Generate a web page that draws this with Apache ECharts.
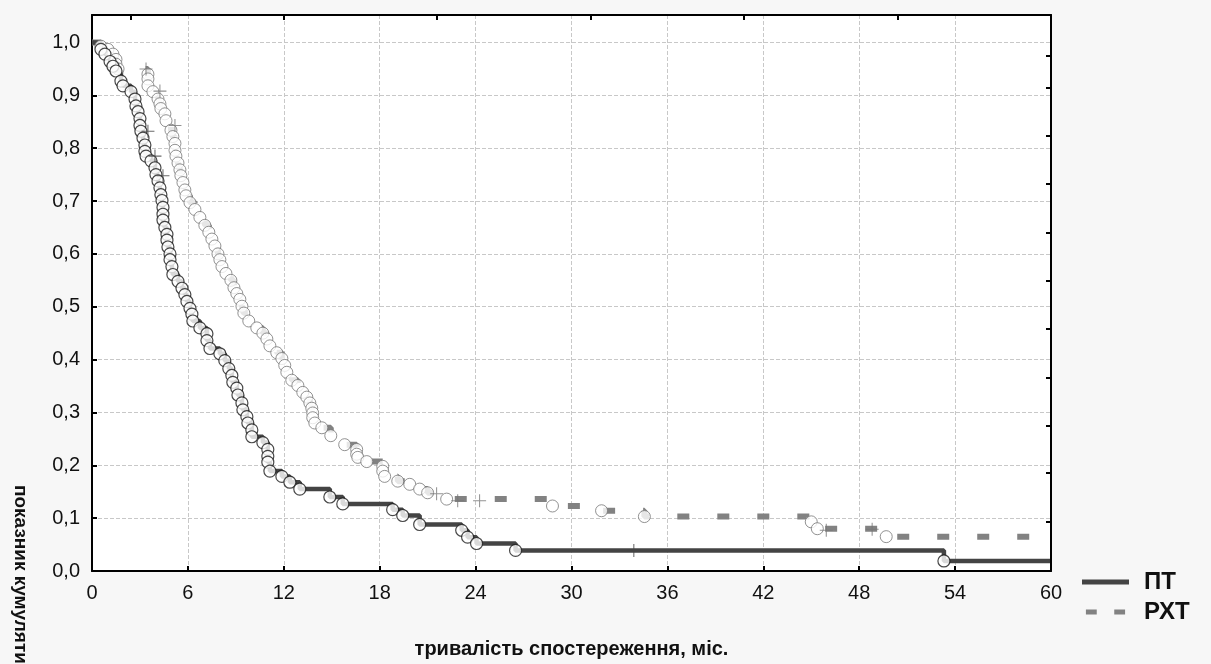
<!DOCTYPE html>
<html>
<head>
<meta charset="utf-8">
<script src="https://cdn.jsdelivr.net/npm/echarts@6/dist/echarts.min.js"></script>
<style>
  html, body { margin: 0; padding: 0; background: #f7f7f7; }
  #km { width: 1211px; height: 664px; }
</style>
</head>
<body>
<div id="km"></div>
<script>
// ПТ: час події (міс.) і показник після події
const ptTime = [0.56, 0.81, 1.13, 1.31, 1.5, 1.81, 1.94, 2.44, 2.69, 2.75, 2.88, 3.0, 3.0, 3.06, 3.19, 3.31, 3.31, 3.38,
  3.69, 3.94, 4.0, 4.13, 4.25, 4.31, 4.38, 4.44, 4.44, 4.44, 4.56, 4.69, 4.69, 4.75, 4.88, 4.88, 5.0, 5.06, 5.38, 5.63,
  5.81, 5.94, 6.13, 6.25, 6.31, 6.75, 7.19, 7.19, 7.38, 8.0, 8.31, 8.56, 8.75, 8.81, 9.06, 9.13, 9.38, 9.44, 9.69, 9.75,
  10.0, 10.0, 10.69, 11.0, 11.0, 11.0, 11.13, 11.88, 12.38, 13.0, 14.88, 15.69, 18.81, 19.44, 20.5, 23.13, 23.5, 24.06,
  26.5, 53.3];
const ptSurv = [0.987, 0.978, 0.964, 0.955, 0.946, 0.927, 0.918, 0.907, 0.893, 0.880, 0.869, 0.856, 0.843, 0.832, 0.819,
  0.806, 0.794, 0.785, 0.776, 0.763, 0.750, 0.738, 0.725, 0.712, 0.701, 0.688, 0.675, 0.664, 0.650, 0.637, 0.626, 0.613,
  0.600, 0.589, 0.576, 0.561, 0.548, 0.535, 0.523, 0.510, 0.497, 0.486, 0.473, 0.460, 0.449, 0.436, 0.421, 0.411, 0.398,
  0.383, 0.370, 0.357, 0.346, 0.333, 0.318, 0.305, 0.292, 0.280, 0.267, 0.254, 0.243, 0.230, 0.217, 0.206, 0.189, 0.179,
  0.168, 0.155, 0.140, 0.127, 0.116, 0.105, 0.088, 0.077, 0.064, 0.052, 0.039, 0.019];
const ptCensTime = [3.5, 3.94, 4.44, 33.9];
const ptCensSurv = [0.832, 0.785, 0.748, 0.039];

// РХТ
const rxtTime = [0.56, 1.0, 1.31, 1.5, 1.5, 1.63, 3.5, 3.5, 3.5, 3.81, 4.13, 4.25, 4.31, 4.56, 4.63, 4.94, 5.06, 5.19,
  5.19, 5.25, 5.38, 5.5, 5.56, 5.69, 5.81, 5.88, 6.13, 6.44, 6.75, 7.06, 7.31, 7.5, 7.69, 7.88, 8.0, 8.13, 8.38, 8.69,
  8.88, 9.06, 9.25, 9.38, 9.5, 9.81, 10.31, 10.69, 10.94, 11.13, 11.56, 11.88, 12.06, 12.19, 12.5, 12.88, 13.19, 13.44,
  13.63, 13.75, 13.81, 13.81, 13.94, 14.38, 14.94, 15.81, 16.56, 16.56, 16.63, 17.19, 18.19, 18.19, 18.31, 19.13, 19.88,
  20.5, 21.0, 22.19, 28.81, 31.88, 34.56, 45.0, 45.38, 49.69];
const rxtSurv = [0.993, 0.987, 0.978, 0.968, 0.959, 0.950, 0.940, 0.931, 0.918, 0.907, 0.893, 0.884, 0.875, 0.865, 0.852,
  0.834, 0.822, 0.809, 0.796, 0.785, 0.772, 0.759, 0.748, 0.735, 0.721, 0.710, 0.697, 0.684, 0.669, 0.654, 0.641, 0.628,
  0.615, 0.600, 0.589, 0.576, 0.563, 0.550, 0.536, 0.525, 0.514, 0.501, 0.488, 0.473, 0.460, 0.450, 0.439, 0.426, 0.413,
  0.402, 0.389, 0.376, 0.361, 0.351, 0.338, 0.329, 0.318, 0.308, 0.299, 0.290, 0.280, 0.271, 0.256, 0.239, 0.230, 0.221,
  0.215, 0.207, 0.198, 0.189, 0.179, 0.170, 0.164, 0.155, 0.148, 0.136, 0.123, 0.114, 0.103, 0.093, 0.080, 0.065];
const rxtCensTime = [3.38, 4.25, 5.19, 21.56, 22.88, 24.25, 45.94, 48.81];
const rxtCensSurv = [0.950, 0.908, 0.843, 0.146, 0.133, 0.133, 0.077, 0.079];

const topTicks = [2.4, 12, 21.6, 31.2, 40.8, 50.4];
const rightTicks = [0.093, 0.185, 0.275, 0.366, 0.458, 0.549, 0.64, 0.732, 0.823, 0.915, 0.974];

const FONT = '"Liberation Sans", Arial, sans-serif';

function pairs(t, s) { return t.map((v, i) => [v, s[i]]); }
function stepLine(t, s) { return [[0, 1]].concat(pairs(t, s), [[60, s[s.length - 1]]]); }

const plus = 'path://M0,4.6H10V5.4H0Z M4.6,0H5.4V10H4.6Z';
const black = { color: '#000', width: 2 };

const chart = echarts.init(document.getElementById('km'));
chart.setOption({
  backgroundColor: '#f7f7f7',
  animation: false,
  textStyle: { fontFamily: FONT },
  grid: { left: 92, right: 160, top: 15, bottom: 86, show: true, backgroundColor: '#fff', borderWidth: 0 },
  legend: {
    orient: 'vertical', left: 1077, top: 565, itemWidth: 47, itemHeight: 5, itemGap: 6,
    data: [
      { name: 'ПТ', icon: 'path://M0,0H47V5H0Z' },
      { name: 'РХТ', icon: 'path://M0,0H13V6H0Z M34,0H47V6H34Z' }
    ],
    textStyle: { fontFamily: FONT, fontSize: 24, fontWeight: 'bold', color: '#111', padding: [0, 0, 0, 10] }
  },
  xAxis: [{
    type: 'value', min: 0, max: 60, interval: 6, z: 1,
    name: 'тривалість спостереження, міс.', nameLocation: 'middle', nameGap: 68,
    nameTextStyle: { fontFamily: FONT, fontSize: 20, fontWeight: 'bold', color: '#111' },
    axisLine: { onZero: false, lineStyle: black },
    axisTick: { inside: true, length: 5, lineStyle: black },
    axisLabel: { fontSize: 20, color: '#111', margin: 12 },
    splitLine: { show: true, lineStyle: { color: '#c8c8c8', type: [4, 2], width: 1 } }
  }, {
    type: 'value', position: 'top', min: 0, max: 60, z: 8,
    axisLine: { show: true, onZero: false, lineStyle: black },
    axisTick: { show: true, inside: true, length: 5, customValues: topTicks, lineStyle: black },
    axisLabel: { show: false }, splitLine: { show: false }
  }],
  yAxis: [{
    type: 'value', min: 0, max: 1.052, interval: 0.1, z: 1,
    axisLine: { show: true, onZero: false, lineStyle: black },
    axisTick: { show: true, inside: true, length: 5, lineStyle: black },
    axisLabel: {
      fontSize: 20, color: '#111', margin: 12,
      formatter: v => v > 1.0001 ? '' : v.toFixed(1).replace('.', ',')
    },
    splitLine: { show: true, lineStyle: { color: '#c8c8c8', type: [4, 2], width: 1 } }
  }, {
    type: 'value', position: 'right', min: 0, max: 1.052, z: 8,
    axisLine: { show: true, onZero: false, lineStyle: black },
    axisTick: { show: true, inside: true, length: 5, customValues: rightTicks, lineStyle: black },
    axisLabel: { show: false }, splitLine: { show: false }
  }],
  graphic: [{
    type: 'text', x: 20, y: 485, rotation: -Math.PI / 2,
    style: {
      text: 'показник кумулятивної виживаності', fill: '#111',
      font: 'bold 19px ' + FONT, textAlign: 'left', textVerticalAlign: 'middle'
    }
  }],
  series: [
    {
      name: 'РХТ', type: 'line', step: 'end', showSymbol: false, symbol: 'none', z: 2,
      data: stepLine(rxtTime, rxtSurv),
      lineStyle: { color: '#828282', width: 6, type: [12, 28], cap: 'butt' },
      itemStyle: { color: '#828282' }
    },
    {
      name: 'ПТ', type: 'line', step: 'end', showSymbol: false, symbol: 'none', z: 3,
      data: stepLine(ptTime, ptSurv),
      lineStyle: { color: '#444', width: 4.5 },
      itemStyle: { color: '#444' }
    },
    {
      name: 'РХТ події', type: 'scatter', symbol: 'circle', symbolSize: 12, z: 4,
      data: pairs(rxtTime, rxtSurv),
      itemStyle: { color: '#fff', borderColor: '#777', borderWidth: 1 }
    },
    {
      name: 'РХТ цензуровані', type: 'scatter', symbol: plus, symbolSize: 13, z: 4,
      data: pairs(rxtCensTime, rxtCensSurv),
      itemStyle: { color: '#777' }
    },
    {
      name: 'ПТ події', type: 'scatter', symbol: 'circle', symbolSize: 12, z: 5,
      data: pairs(ptTime, ptSurv),
      itemStyle: { color: '#fff', borderColor: '#1a1a1a', borderWidth: 1.2 }
    },
    {
      name: 'ПТ цензуровані', type: 'scatter', symbol: plus, symbolSize: 13, z: 5,
      data: pairs(ptCensTime, ptCensSurv),
      itemStyle: { color: '#444' }
    }
  ]
});
</script>
</body>
</html>
